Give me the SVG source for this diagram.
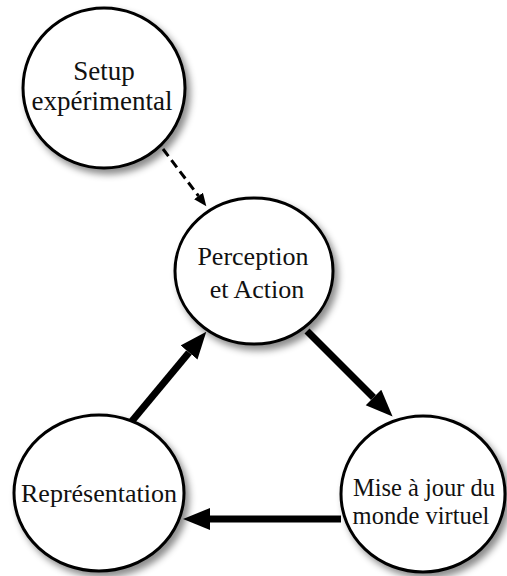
<svg xmlns="http://www.w3.org/2000/svg" width="507" height="576" viewBox="0 0 507 576">
<defs>
<filter id="sh" x="-20%" y="-20%" width="150%" height="150%">
<feDropShadow dx="4" dy="5" stdDeviation="3.5" flood-color="#000" flood-opacity="0.45"/>
</filter>
<marker id="big" markerUnits="userSpaceOnUse" markerWidth="28" markerHeight="24" refX="0" refY="11" orient="auto">
<path d="M0,0 L27,11 L0,22 z" fill="#000"/>
</marker>
<marker id="small" markerUnits="userSpaceOnUse" markerWidth="14" markerHeight="12" refX="0" refY="5.5" orient="auto">
<path d="M0,0 L13,5.5 L0,11 z" fill="#000"/>
</marker>
<style>
.node ellipse{fill:#fff;stroke:#000;stroke-width:3;filter:url(#sh)}
.node text{fill:#111;text-anchor:middle}
.thick{stroke:#000;stroke-width:7;fill:none;marker-end:url(#big)}
.dash{stroke:#000;stroke-width:3;fill:none;stroke-dasharray:9 5;marker-end:url(#small)}
</style>
</defs>
<rect width="507" height="576" fill="#fff"/>
<g id="connectors">
<line class="dash" x1="163" y1="149" x2="198.5" y2="196"/>
<line class="thick" x1="307" y1="331" x2="373.5" y2="397.5"/>
<line class="thick" x1="341" y1="519" x2="210" y2="519"/>
<line class="thick" x1="132" y1="421" x2="189" y2="352.5"/>
</g>
<g id="setup" class="node" font-family="'Liberation Serif', 'DejaVu Serif', serif" font-size="27">
<ellipse cx="104" cy="88" rx="81" ry="80"/>
<text x="104" y="80">Setup</text>
<text x="102" y="110">expérimental</text>
</g>
<g id="perception" class="node" font-family="'Liberation Serif', 'DejaVu Serif', serif" font-size="26">
<ellipse cx="254" cy="271" rx="79" ry="73"/>
<text x="253" y="265">Perception</text>
<text x="257" y="298">et Action</text>
</g>
<g id="representation" class="node" font-family="'Liberation Serif', 'DejaVu Serif', serif" font-size="26">
<ellipse cx="99" cy="493" rx="85" ry="78"/>
<text x="99" y="502">Représentation</text>
</g>
<g id="miseajour" class="node" font-family="'Liberation Serif', 'DejaVu Serif', serif" font-size="24.5">
<ellipse cx="423" cy="494" rx="82" ry="78"/>
<text x="424" y="496">Mise à jour du</text>
<text x="421" y="524">monde virtuel</text>
</g>
</svg>
